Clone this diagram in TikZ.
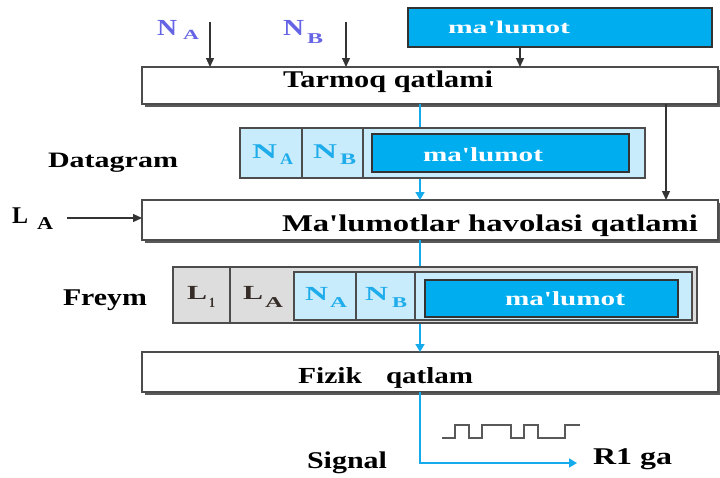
\documentclass[tikz,border=0pt]{standalone}
\usepackage{fontspec}
\usepackage{graphicx}
\setmainfont{Liberation Serif}[Ligatures=TeXOff]
\usetikzlibrary{arrows.meta,shadows}
\definecolor{cyanbox}{RGB}{0,174,239}
\definecolor{lineblue}{RGB}{20,170,235}
\definecolor{lightb}{RGB}{200,236,252}
\definecolor{grayc}{RGB}{221,221,221}
\definecolor{nlabel}{RGB}{100,100,228}
\definecolor{celltxt}{RGB}{30,172,235}
\definecolor{ltxt}{RGB}{55,45,40}
\newcommand\T[7]{\node[txt,text=#6] (#1) at (#2,#3) {\fontsize{#4}{#4}\selectfont\resizebox{#5pt}{\height}{#7}};}
\begin{document}
\begin{tikzpicture}[x=1pt,y=-1pt,
  layerbox/.style={draw=black!70, line width=1.3pt, fill=white, anchor=north west, inner sep=0, outer sep=0,
     drop shadow={shadow xshift=3pt,shadow yshift=-3pt,fill=black!65,opacity=1}},
  cell/.style={anchor=north west, inner sep=0, outer sep=0, draw=black!70, line width=1.1pt},
  datbox/.style={cell, fill=cyanbox, draw=black!80, line width=1.4pt},
  txt/.style={anchor=base west, inner sep=0, outer sep=0, font=\bfseries},
  blueline/.style={draw=lineblue, line width=1.6pt},
  bluearrow/.style={blueline, -{Triangle[length=8pt,width=9pt]}},
  blackarrow/.style={draw=black!80, line width=1.3pt, -{Triangle[length=9pt,width=8pt]}},
  divider/.style={draw=black!70, line width=1.1pt}]
\useasboundingbox (0,0) rectangle (720,477);
% layer boxes
\node[layerbox, minimum width=576, minimum height=37] (tq) at (142,67) {};
\node[layerbox, minimum width=576, minimum height=40] (ml) at (142,200) {};
\node[layerbox, minimum width=576, minimum height=40] (fz) at (142,352) {};
% top data box
\node[datbox, minimum width=304, minimum height=39] (mt) at (408,8) {};
% connector coordinates
\coordinate (c1) at (420,0);
\coordinate (c3) at (520,0);
\coordinate (c4) at (666,0);
\coordinate (naT) at (210,22);
\coordinate (nbT) at (346,22);
\coordinate (la) at (67,218);
\coordinate (sg) at (577,463);
% blue lines
\draw[bluearrow] (tq.south -| c1) -- (ml.north -| c1);
\draw[bluearrow] (ml.south -| c1) -- (fz.north -| c1);
\draw[bluearrow] (fz.south -| c1) |- (sg);
% black arrows
\draw[blackarrow] (naT) -- (naT |- tq.north);
\draw[blackarrow] (nbT) -- (nbT |- tq.north);
\draw[blackarrow] (mt.south -| c3) -- (tq.north -| c3);
\draw[blackarrow] (tq.south -| c4) -- (ml.north -| c4);
\draw[blackarrow] (la) -- (la -| ml.west);
% datagram
\node[cell, fill=lightb, minimum width=405, minimum height=50] (dg) at (240,128) {};
\coordinate (d1) at (302,0);
\coordinate (d2) at (363,0);
\draw[divider] (dg.north -| d1) -- (dg.south -| d1);
\draw[divider] (dg.north -| d2) -- (dg.south -| d2);
\node[datbox, minimum width=257, minimum height=38] (dgm) at (372,134) {};
% freym
\node[cell, fill=grayc, minimum width=524, minimum height=56] (fr) at (173,267) {};
\node[cell, fill=lightb, minimum width=398, minimum height=48] (frb) at (294,272) {};
\coordinate (f1) at (230,0);
\coordinate (f2) at (356,0);
\coordinate (f3) at (415,0);
\draw[divider] (fr.north -| f1) -- (fr.south -| f1);
\draw[divider] (frb.north -| f2) -- (frb.south -| f2);
\draw[divider] (frb.north -| f3) -- (frb.south -| f3);
\node[datbox, minimum width=253, minimum height=37] (frm) at (425,280) {};
% square wave
\draw[black!65, line width=1.5pt] (442,438) -- (455,438) -- (455,425) -- (469,425) -- (469,438) -- (482,438)
  -- (482,425) -- (511,425) -- (511,438) -- (524,438) -- (524,425) -- (538,425) -- (538,438)
  -- (565,438) -- (565,425) -- (580,425);
% texts
\T{t1}{283}{87}{24}{210}{black}{Tarmoq qatlami}
\T{t2}{282}{231}{24}{416}{black}{Ma\char"27 lumotlar havolasi qatlami}
\T{t3}{298}{383}{23}{64}{black}{Fizik}
\T{t4}{386}{383}{23}{87}{black}{qatlam}
\T{t5}{48}{167}{22}{130}{black}{Datagram}
\T{t6}{63}{305}{24}{84}{black}{Freym}
\T{t7}{12}{223}{24}{16}{black}{L}
\T{t8}{37}{229}{18}{16}{black}{A}
\T{t9}{307}{468}{24}{80}{black}{Signal}
\T{t10}{593}{464}{24}{79}{black}{R1 ga}
% top labels
\T{t11}{157}{35}{23}{20}{nlabel}{N}
\T{t12}{183}{39}{14}{16}{nlabel}{A}
\T{t13}{283}{35}{23}{21}{nlabel}{N}
\T{t14}{307}{43}{15}{16}{nlabel}{B}
\T{t15}{448}{33}{18}{122}{white}{ma\char"27 lumot}
% datagram texts
\T{t16}{252}{158}{21}{25}{celltxt}{N}
\T{t17}{280}{164}{16}{13}{celltxt}{A}
\T{t18}{313}{158}{21}{24}{celltxt}{N}
\T{t19}{340}{164}{16}{16}{celltxt}{B}
\T{t20}{423}{161}{20}{120}{white}{ma\char"27 lumot}
% freym texts
\T{t21}{187}{299}{20}{20}{ltxt}{L}
\T{t22}{209}{307}{14}{6}{ltxt}{1}
\T{t23}{243}{299}{20}{20}{ltxt}{L}
\T{t24}{265}{307}{15}{18}{ltxt}{A}
\T{t25}{305}{300}{20}{23}{celltxt}{N}
\T{t26}{330}{307}{15}{17}{celltxt}{A}
\T{t27}{365}{300}{20}{23}{celltxt}{N}
\T{t28}{392}{307}{15}{15}{celltxt}{B}
\T{t29}{505}{305}{20}{120}{white}{ma\char"27 lumot}
\end{tikzpicture}
\end{document}
